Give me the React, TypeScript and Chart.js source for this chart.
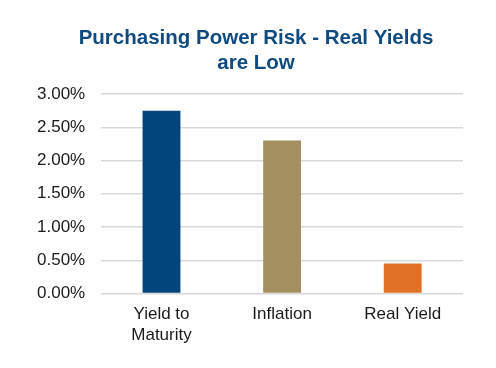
import React, { useEffect, useRef } from "react";
import { Chart, registerables } from "chart.js";

Chart.register(...registerables);

const categories: (string | string[])[] = [["Yield to", "Maturity"], "Inflation", "Real Yield"];
const values: number[] = [2.75, 2.3, 0.45];
const barColors: string[] = ["#01457c", "#a38f5f", "#e07125"];
const titleLines: string[] = ["Purchasing Power Risk - Real Yields", "are Low"];
const yMin = 0;
const yMax = 3;
const yStep = 0.5;

const FONT = "'Liberation Sans', Arial, sans-serif";

const titleShift = {
  id: "titleShift",
  afterLayout(chart: any) {
    const t = chart.titleBlock;
    if (t) {
      t.left += 14;
      t.right += 14;
    }
  },
};

export default function App() {
  const ref = useRef<HTMLCanvasElement | null>(null);
  useEffect(() => {
    if (!ref.current) return;
    const chart = new Chart(ref.current, {
      type: "bar",
      data: {
        labels: categories,
        datasets: [
          {
            data: values,
            backgroundColor: barColors,
            borderWidth: 0,
            categoryPercentage: 1,
            barPercentage: 0.314,
          },
        ],
      },
      plugins: [titleShift],
      options: {
        animation: false,
        responsive: false,
        maintainAspectRatio: false,
        layout: { padding: { left: 21, right: 33, top: 0, bottom: 12 } },
        plugins: {
          legend: { display: false },
          tooltip: { enabled: false },
          title: {
            display: true,
            text: titleLines,
            color: "#0f4a80",
            font: { family: FONT, size: 20.5, weight: "bold", lineHeight: 1.22 },
            padding: { top: 26, bottom: 18 },
          },
        },
        scales: {
          x: {
            grid: { display: false, drawTicks: false },
            border: { display: false },
            ticks: {
              color: "#1a1a1a",
              font: { family: FONT, size: 17, lineHeight: 1.25 },
              padding: 10,
              maxRotation: 0,
            },
          },
          y: {
            min: yMin,
            max: yMax,
            grid: { color: "#d9d9d9", lineWidth: 1.5, drawTicks: false },
            border: { display: false },
            ticks: {
              stepSize: yStep,
              color: "#1a1a1a",
              font: { family: FONT, size: 17 },
              padding: 16,
              callback: (v: any) => Number(v).toFixed(2) + "%",
            },
          },
        },
      },
    });
    return () => chart.destroy();
  }, []);
  return (
    <div style={{ position: "fixed", left: 0, top: 0, width: 496, height: 368, background: "#fff" }}>
      <canvas ref={ref} width={496} height={368} style={{ display: "block" }} />
    </div>
  );
}
